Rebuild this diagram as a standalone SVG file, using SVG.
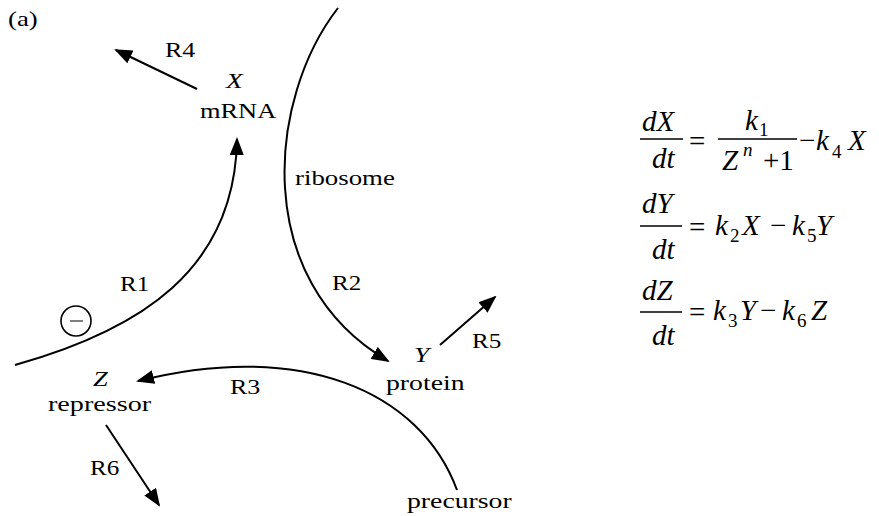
<svg xmlns="http://www.w3.org/2000/svg" width="879" height="516" viewBox="0 0 879 516" font-family="Liberation Serif">
<style>
.t{font-size:22px}
.i{font-style:italic}
.e{font-size:29px;font-style:italic}
.es{font-size:19px}
.er{font-size:29px}
.c{fill:none;stroke:#000;stroke-width:2}
.bar{stroke:#000;stroke-width:1.4}
</style>
<defs>
<marker id="ah" viewBox="0 0 18 14" refX="16" refY="7" markerWidth="18" markerHeight="14" markerUnits="userSpaceOnUse" orient="auto">
<path d="M0,0 L18,7 L0,14 z" fill="#000"/>
</marker>
</defs>
<text class="t" font-family="Liberation Serif" transform="translate(8,26) scale(1.22,1)">(a)</text>
<g id="connectors" font-family="Liberation Serif">
<path class="c" d="M15,365 C140,330 235,270 237,139" marker-end="url(#ah)"/>
<path class="c" d="M338,8 C268,98 250,280 388,361" marker-end="url(#ah)"/>
<path class="c" d="M457,490 C420,390 300,340 138,381" marker-end="url(#ah)"/>
<path class="c" d="M197,89 L116,50" marker-end="url(#ah)"/>
<path class="c" d="M440,345 L495,297" marker-end="url(#ah)"/>
<path class="c" d="M106,425 L159,505" marker-end="url(#ah)"/>
<circle cx="76" cy="321" r="15" fill="none" stroke="#000" stroke-width="1.6"/>
<line x1="70" y1="321" x2="83" y2="321" stroke="#000" stroke-width="1"/>
<text class="t" font-family="Liberation Serif" transform="translate(165,57) scale(1.18,1)">R4</text>
<text class="t" font-family="Liberation Serif" transform="translate(120,291) scale(1.14,1)">R1</text>
<text class="t" font-family="Liberation Serif" transform="translate(332,290) scale(1.14,1)">R2</text>
<text class="t" font-family="Liberation Serif" transform="translate(230,394) scale(1.18,1)">R3</text>
<text class="t" font-family="Liberation Serif" transform="translate(472,348) scale(1.14,1)">R5</text>
<text class="t" font-family="Liberation Serif" transform="translate(90,475) scale(1.14,1)">R6</text>
</g>
<g id="mrna" font-family="Liberation Serif">
<text class="t i" font-family="Liberation Serif" transform="translate(226,88) scale(1.25,1)">X</text>
<text class="t" font-family="Liberation Serif" transform="translate(200,118) scale(1.2,1)">mRNA</text>
</g>
<g id="ribosome" font-family="Liberation Serif">
<text class="t" font-family="Liberation Serif" transform="translate(295,185) scale(1.22,1)">ribosome</text>
</g>
<g id="protein" font-family="Liberation Serif">
<text class="t i" font-family="Liberation Serif" transform="translate(414,362) scale(1.25,1)">Y</text>
<text class="t" font-family="Liberation Serif" transform="translate(386,390) scale(1.26,1)">protein</text>
</g>
<g id="repressor" font-family="Liberation Serif">
<text class="t i" font-family="Liberation Serif" transform="translate(93,386) scale(1.2,1)">Z</text>
<text class="t" font-family="Liberation Serif" transform="translate(48,411) scale(1.28,1)">repressor</text>
</g>
<g id="precursor" font-family="Liberation Serif">
<text class="t" font-family="Liberation Serif" transform="translate(407,508) scale(1.26,1)">precursor</text>
</g>
<g id="equations" font-family="Liberation Serif">
<text class="e" x="642" y="131">dX</text>
<line class="bar" x1="640" y1="139" x2="683" y2="139"/>
<text class="e" x="652" y="168">dt</text>
<text class="er" x="689" y="151">=</text>
<text class="e" x="745" y="130">k</text>
<text class="es" x="759" y="136">1</text>
<line class="bar" x1="718" y1="139" x2="797" y2="139"/>
<text class="e" x="722" y="170">Z</text>
<text class="es i" x="743" y="156">n</text>
<text class="er" x="763" y="170">+1</text>
<text class="er" x="799" y="150">−</text>
<text class="e" x="816" y="150">k</text>
<text class="es" x="832" y="158">4</text>
<text class="e" x="848" y="150">X</text>

<text class="e" x="642" y="213">dY</text>
<line class="bar" x1="640" y1="226" x2="682" y2="226"/>
<text class="e" x="652" y="259">dt</text>
<text class="er" x="689" y="237">=</text>
<text class="e" x="715" y="235">k</text>
<text class="es" x="730" y="242">2</text>
<text class="e" x="742" y="235">X</text>
<text class="er" x="770" y="235">−</text>
<text class="e" x="792" y="235">k</text>
<text class="es" x="807" y="242">5</text>
<text class="e" x="816" y="235">Y</text>

<text class="e" x="642" y="300">dZ</text>
<line class="bar" x1="640" y1="312" x2="682" y2="312"/>
<text class="e" x="652" y="345">dt</text>
<text class="er" x="689" y="322">=</text>
<text class="e" x="713" y="320">k</text>
<text class="es" x="728" y="327">3</text>
<text class="e" x="740" y="320">Y</text>
<text class="er" x="760" y="320">−</text>
<text class="e" x="782" y="320">k</text>
<text class="es" x="797" y="327">6</text>
<text class="e" x="811" y="320">Z</text>
</g>
</svg>
